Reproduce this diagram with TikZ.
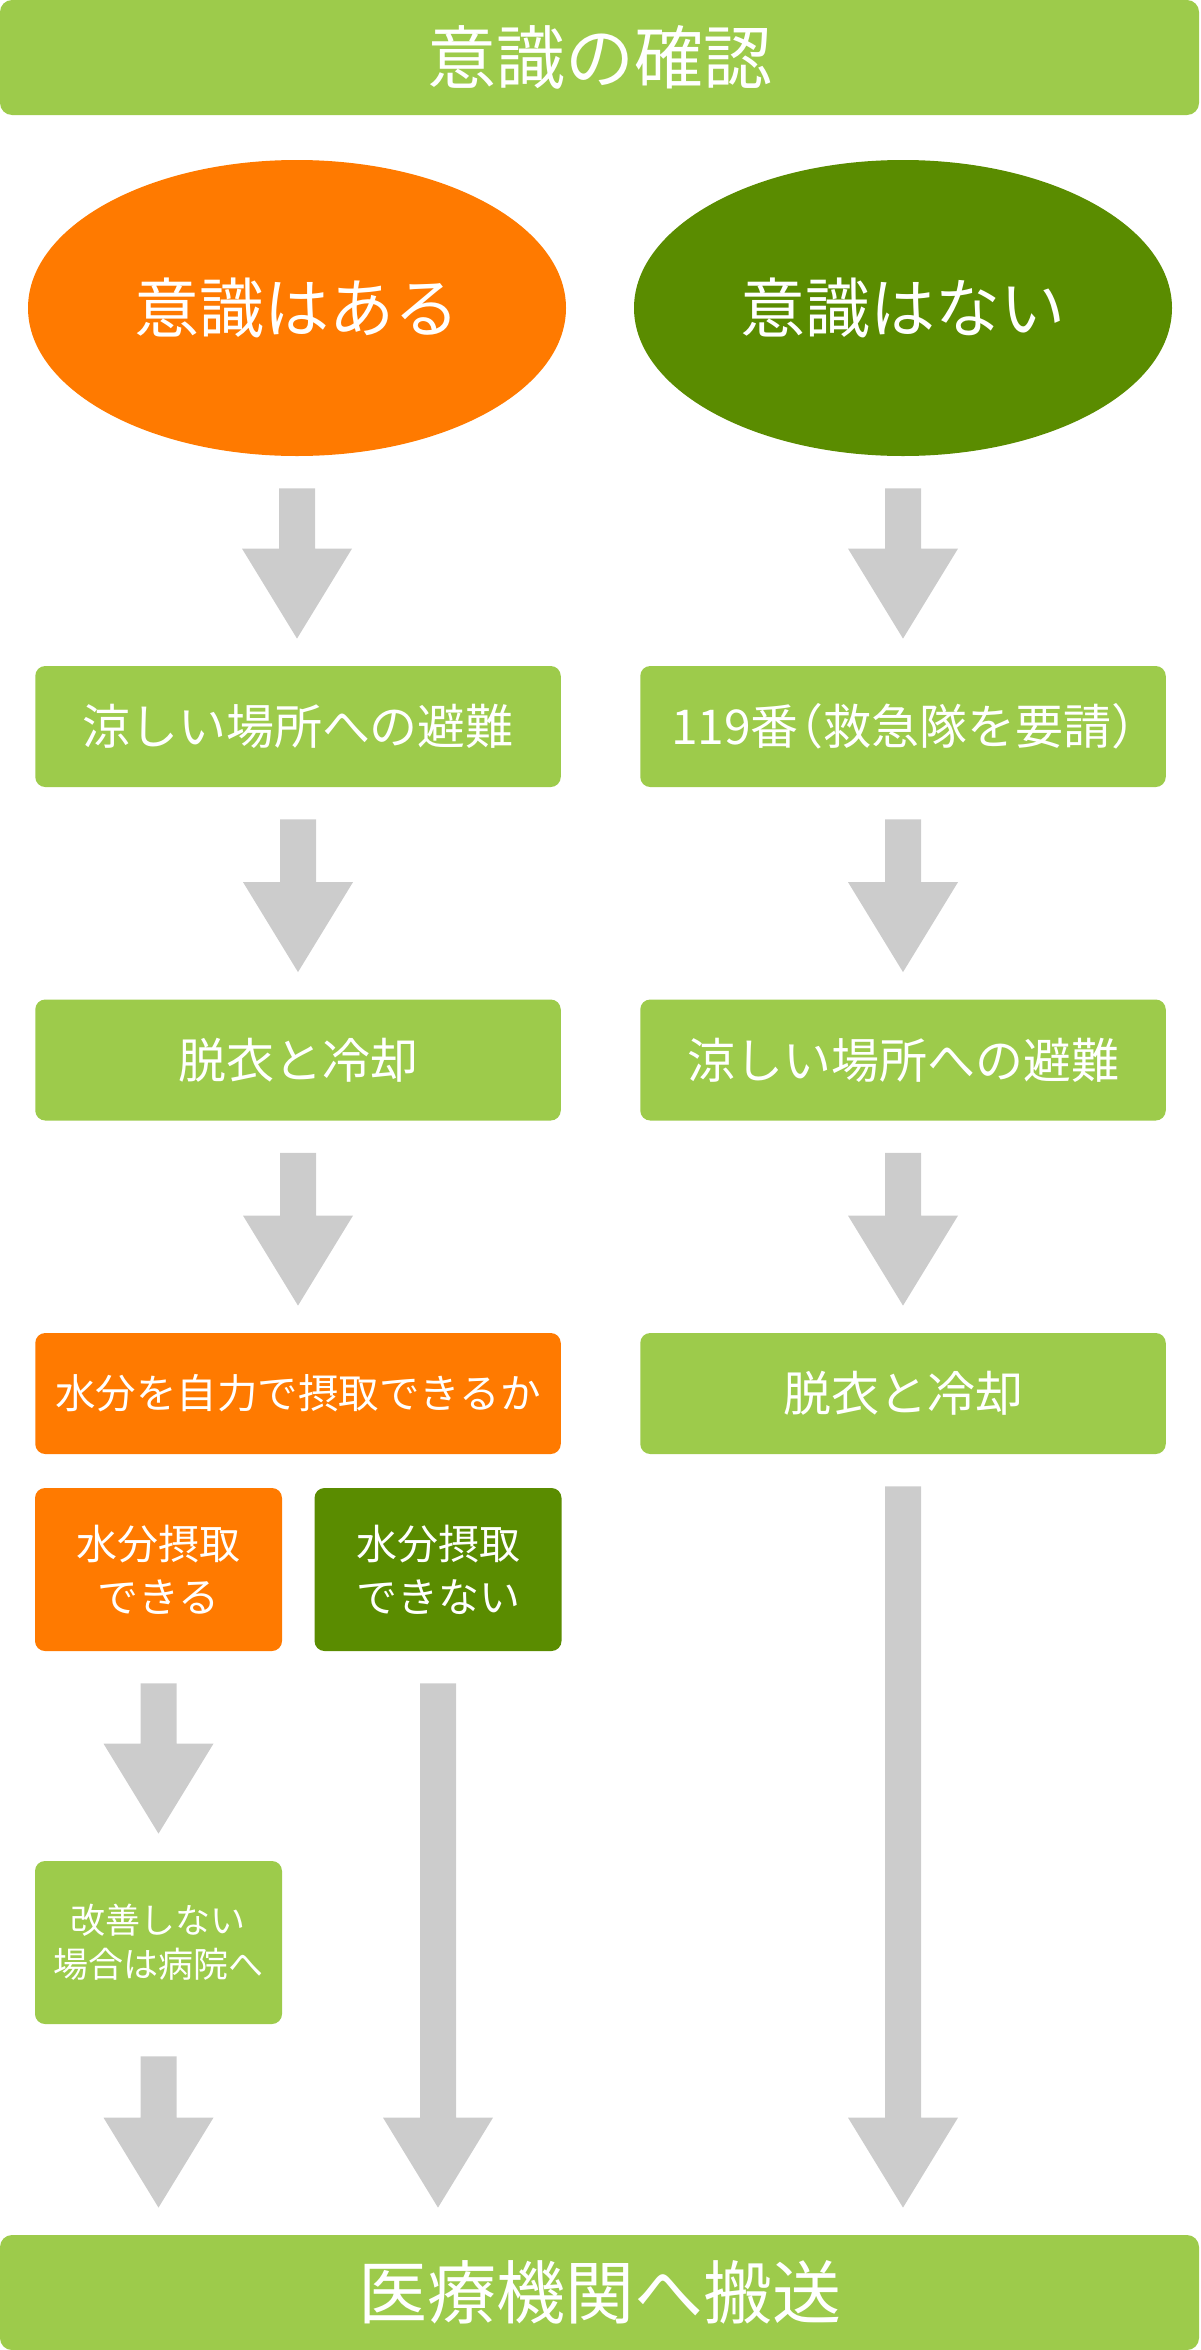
\documentclass[tikz,border=0pt]{standalone}
\usepackage{fontspec}
\setmainfont{Noto Sans CJK JP}
\newfontfamily\cjkhalt[RawFeature=+halt]{Noto Sans CJK JP}
\usetikzlibrary{shapes.geometric,calc}
\definecolor{lgreen}{HTML}{9DCB4B}
\definecolor{dgreen}{HTML}{5A8C00}
\definecolor{orng}{HTML}{FF7A00}
\definecolor{agray}{HTML}{CCCCCC}
\tikzset{
  base/.style={inner sep=0pt, text=white, align=center},
  bar/.style={base, rectangle, rounded corners=6pt, fill=lgreen,
    minimum width=599.5pt, minimum height=57.5pt,
    font=\fontsize{34.5}{40}\selectfont},
  oval/.style={base, ellipse, minimum width=269pt, minimum height=148pt,
    font=\fontsize{32.5}{38}\selectfont},
  stepbox/.style={base, rectangle, rounded corners=5pt, fill=lgreen,
    minimum width=262.75pt, minimum height=60.5pt,
    font=\fontsize{24}{28}\selectfont},
  smallbox/.style={base, rectangle, rounded corners=5pt,
    minimum width=123.5pt, minimum height=81.5pt,
    font=\fontsize{20.5}{26.5}\selectfont},
}
\newcommand\garrow[2]{%
  \fill[agray] let \p1=(#1.south), \p2=(#2.north) in
    (\x1-9pt,\y1-16pt) -- (\x1+9pt,\y1-16pt) -- (\x1+9pt,\y2+58.5pt)
    -- (\x1+27.5pt,\y2+58.5pt) -- (\x1,\y2+13.5pt) -- (\x1-27.5pt,\y2+58.5pt)
    -- (\x1-9pt,\y2+58.5pt) -- cycle;}
\begin{document}
\begin{tikzpicture}[x=0.5pt,y=-0.5pt]
\useasboundingbox (0,0) rectangle (1200,2350);
% top and bottom bars
\node[bar] (top) at (599.5,57.5) {意識の確認};
\node[bar] (bottom) at (599.5,2292.5) {医療機関へ搬送};
% ellipses
\node[oval, fill=orng] (yes) at (297,308) {意識はある};
\node[oval, fill=dgreen] (no) at (903,308) {意識はない};
% left column
\node[stepbox] (l1) at (298,726.5) {涼しい場所への避難};
\node[stepbox] (l2) at (298,1060) {脱衣と冷却};
\node[stepbox, fill=orng, font=\fontsize{20.25}{24}\selectfont] (l3) at (298,1393.5) {水分を自力で摂取できるか};
\node[smallbox, fill=orng] (s1) at (158.5,1569.5) {水分摂取\\できる};
\node[smallbox, fill=dgreen] (s2) at (438,1569.5) {水分摂取\\できない};
\node[smallbox, fill=lgreen, font=\fontsize{17.5}{22}\selectfont] (s3) at (158.5,1942.5) {改善しない\\場合は病院へ};
% right column
\node[stepbox] (r1) at (903,726.5) {119番{\cjkhalt （}救急隊を要請{\cjkhalt ）}};
\node[stepbox] (r2) at (903,1060) {涼しい場所への避難};
\node[stepbox] (r3) at (903,1393.5) {脱衣と冷却};
% arrows
\garrow{yes}{l1}
\garrow{l1}{l2}
\garrow{l2}{l3}
\garrow{s1}{s3}
\garrow{s3}{bottom}
\garrow{s2}{bottom}
\garrow{no}{r1}
\garrow{r1}{r2}
\garrow{r2}{r3}
\garrow{r3}{bottom}
\end{tikzpicture}
\end{document}
